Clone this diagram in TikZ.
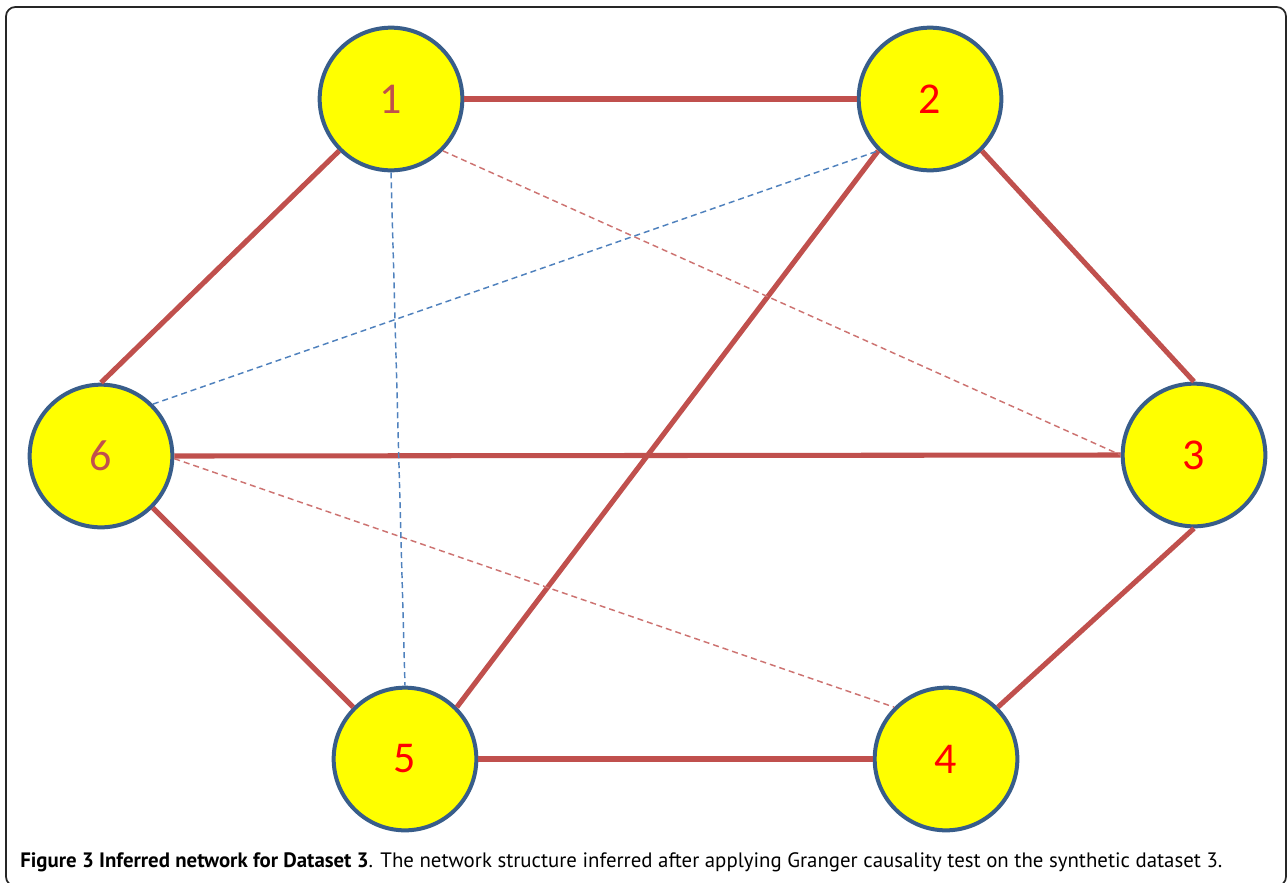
\documentclass[tikz,border=0pt]{standalone}
\usepackage{fontspec}
\setmainfont{PT Sans}
\newfontfamily\digitfont{Carlito}
\begin{document}
\begin{tikzpicture}[x=0.75pt,y=-0.75pt,
  vert/.style={circle,draw=vblue,fill=vyellow,line width=3pt,minimum size=107pt,inner sep=0pt,font=\digitfont\fontsize{33pt}{33pt}\selectfont},
  solidedge/.style={draw=ered,line width=3.8pt},
  reddash/.style={draw=ered!80,line width=1.1pt,dash pattern=on 4.5pt off 3pt},
  bluedash/.style={draw=eblue,line width=1.1pt,dash pattern=on 4.5pt off 3pt}]
\definecolor{vblue}{HTML}{385D8A}
\definecolor{vyellow}{HTML}{FFFF00}
\definecolor{ered}{HTML}{C0504D}
\definecolor{eblue}{HTML}{4F81BD}
\definecolor{lred}{HTML}{C0504D}
\definecolor{bred}{HTML}{FF0000}
\useasboundingbox (0,0) rectangle (1287,882);
\draw[line width=1.3pt,rounded corners=7pt,black!85] (6,7) rectangle (1286,886);
\coordinate (c1) at (391,99);
\coordinate (c2) at (930,99);
\coordinate (c3) at (1194,455);
\coordinate (c4) at (946,759);
\coordinate (c5) at (405,759);
\coordinate (c6) at (101,456);
\node[vert,text=lred] (n1) at (c1) {1};
\node[vert,text=bred] (n2) at (c2) {2};
\node[vert,text=bred] (n3) at (c3) {3};
\node[vert,text=bred] (n4) at (c4) {4};
\node[vert,text=bred] (n5) at (c5) {5};
\node[vert,text=lred] (n6) at (c6) {6};
\path[solidedge] (n1.east) -- (n2.west);
\path[solidedge] (n2.south east) -- (n3.north);
\path[solidedge] (n3.south) -- (n4.north east);
\path[solidedge] (n4.west) -- (n5.east);
\path[solidedge] (n5.north west) -- (n6.south east);
\path[solidedge] (n6.north) -- (n1.south west);
\path[solidedge] (n6.east) -- (n3.west);
\path[solidedge] (n2.south west) -- (n5.north east);
\path[reddash] (n1.south east) -- (n3.west);
\path[reddash] ([yshift=-2pt]n6.east) -- (n4.north west);
\path[bluedash] (n1.south) -- (n5.north);
\path[bluedash] (n6.north east) -- (n2.south west);
\node[anchor=base west,inner sep=0pt] (cap) at (20,867) {\resizebox{901.5pt}{!}{\textbf{Figure 3 Inferred network for Dataset 3}. The network structure inferred after applying Granger causality test on the synthetic dataset 3.}};
\end{tikzpicture}
\end{document}
